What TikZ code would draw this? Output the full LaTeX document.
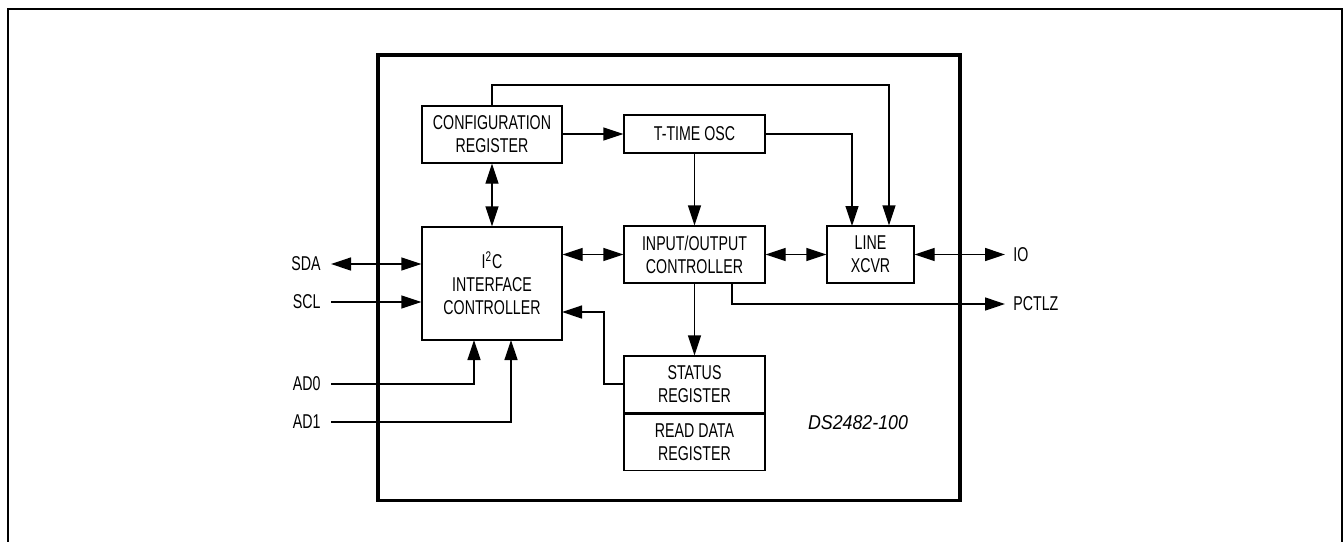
\documentclass[tikz,border=0pt]{standalone}
\usepackage{fontspec}
\setmainfont[FakeStretch=0.71]{Liberation Sans}
\newfontfamily\pnfont[FakeStretch=0.89]{Liberation Sans}
\usetikzlibrary{arrows.meta,calc}
\tikzset{
  blk/.style={draw, line width=0.65pt, inner sep=0pt, align=center, font=\fontsize{10}{11.5}\selectfont},
  conn/.style={line width=0.65pt},
  tip/.style={-{Triangle[length=10pt,width=6.5pt]}},
  dtip/.style={{Triangle[length=10pt,width=6.5pt]}-{Triangle[length=10pt,width=6.5pt]}},
  lbl/.style={inner sep=0pt, font=\fontsize{10}{11.5}\selectfont}
}
\begin{document}
\begin{tikzpicture}[x=0.5pt,y=-0.5pt]
\useasboundingbox (0,0) rectangle (1343,541);
% frames
\draw[line width=1pt] (8,560) -- (8,9) -- (1342,9) -- (1342,560);
\draw[line width=1.6pt] (378,55) rectangle (960,500.5);
% blocks
\node[blk, minimum width=70pt, minimum height=28.5pt] (cfg) at (492,134.5) {CONFIGURATION\\REGISTER};
\node[blk, minimum width=70.5pt, minimum height=19pt] (osc) at (694.5,134) {T-TIME OSC};
\node[blk, minimum width=70pt, minimum height=56.5pt] (i2c) at (492,283.5) {I\textsuperscript{2}C\\INTERFACE\\CONTROLLER};
\node[blk, minimum width=70.5pt, minimum height=28.5pt] (ioc) at (694.5,254.5) {INPUT/OUTPUT\\CONTROLLER};
\node[blk, minimum width=43.5pt, minimum height=28.5pt] (xcvr) at (870.5,254.5) {LINE\\XCVR};
\node[blk, minimum width=70.5pt, minimum height=28.5pt] (stat) at (694.5,384.5) {STATUS\\REGISTER};
\node[blk, minimum width=70.5pt, minimum height=28pt, anchor=north] (rdat) at (stat.south) {READ DATA\\REGISTER};
\node[lbl, font=\fontsize{10}{11.5}\pnfont\itshape] (pn) at (858,423) {DS2482-100};
% pin labels
\node[lbl, anchor=east] (sda) at (321,264) {SDA};
\node[lbl, anchor=east] (scl) at (321,302) {SCL};
\node[lbl, anchor=east] (ad0) at (321,384) {AD0};
\node[lbl, anchor=east] (ad1) at (321,422) {AD1};
\node[lbl, anchor=west] (io) at (1013,255) {IO};
\node[lbl, anchor=west] (pctlz) at (1013,304) {PCTLZ};
% coordinates
\coordinate (sdaE) at (331,264);
\coordinate (sclE) at (331,302);
\coordinate (ad0E) at (331,384);
\coordinate (ad1E) at (331,422);
\coordinate (ad0T) at (474,340);
\coordinate (ad1T) at (511,340);
\coordinate (ioW) at (1005,254.5);
\coordinate (pcW) at (1005,304);
\coordinate (topR) at (889,85);
\coordinate (xA) at (852,226);
\coordinate (stA) at (604,384);
\coordinate (i2cR) at (562,312);
\coordinate (pcS) at (732,283);
% connectors
\draw[conn,tip] (cfg.north) |- (topR) -- (topR |- xcvr.north);
\draw[conn,tip] (cfg.east |- osc.west) -- (osc.west);
\draw[conn,tip] (osc.east) -| (xA);
\draw[conn,tip] (osc.south) -- (ioc.north);
\draw[conn,dtip] (cfg.south) -- (i2c.north);
\draw[conn,dtip] (sdaE) -- (i2c.west |- sdaE);
\draw[conn,tip] (sclE) -- (i2c.west |- sclE);
\draw[conn,tip] (ad0E) -| (ad0T);
\draw[conn,tip] (ad1E) -| (ad1T);
\draw[conn,dtip] (i2c.east |- ioc.west) -- (ioc.west);
\draw[conn,tip] (stat.west |- stA) -- (stA) |- (i2cR);
\draw[conn,dtip] (ioc.east) -- (xcvr.west);
\draw[conn,dtip] (xcvr.east) -- (ioW);
\draw[conn,tip] (pcS) |- (pcW);
\draw[conn,tip] (ioc.south) -- (stat.north);
\end{tikzpicture}
\end{document}
